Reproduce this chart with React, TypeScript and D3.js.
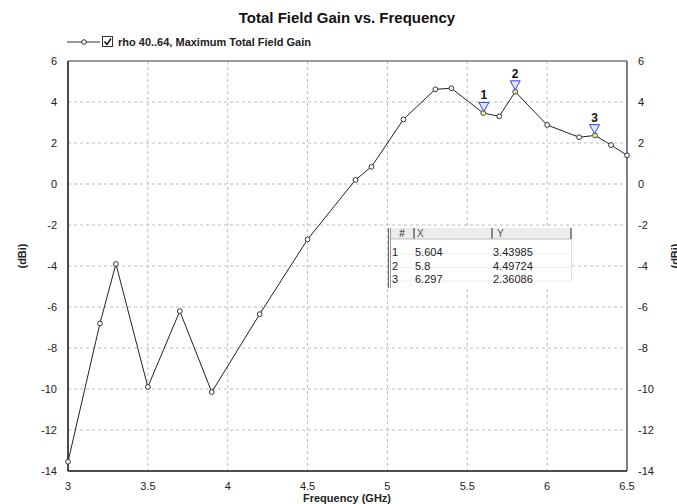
import React from "react";
import * as d3 from "d3";

const freq = [3.0, 3.2, 3.3, 3.5, 3.7, 3.9, 4.2, 4.5, 4.8, 4.9, 5.1, 5.3, 5.4, 5.6, 5.7, 5.8, 6.0, 6.2, 6.3, 6.4, 6.5];
const gain = [-13.55, -6.8, -3.9, -9.9, -6.2, -10.15, -6.35, -2.7, 0.2, 0.84, 3.15, 4.62, 4.67, 3.46, 3.3, 4.5, 2.88, 2.28, 2.37, 1.9, 1.4];

const markerIds = ["1", "2", "3"];
const markerX = [5.604, 5.8, 6.297];
const markerY = [3.43985, 4.49724, 2.36086];

const xTicks = [3, 3.5, 4, 4.5, 5, 5.5, 6, 6.5];
const yTicks = [-14, -12, -10, -8, -6, -4, -2, 0, 2, 4, 6];

const title = "Total Field Gain vs. Frequency";
const legendLabel = "rho 40..64, Maximum Total Field Gain";
const xTitle = "Frequency (GHz)";
const yTitle = "(dBi)";

const W = 677, H = 504;
const L = 68, R = 627, T = 61, B = 471;
const FONT = "Arial, 'Liberation Sans', sans-serif";

export default function App() {
  const x = d3.scaleLinear().domain([3, 6.5]).range([L, R]);
  const y = d3.scaleLinear().domain([-14, 6]).range([B, T]);
  const line = d3.line<number>().x((_, i) => x(freq[i])).y((d) => y(d));
  const pts = gain.map((g, i) => [freq[i], g]);

  const tblL = 388, tblT = 228, hdrH = 11, rowH = 13.5, tblB = 288;
  const colX = [391, 414, 492, 571];

  return (
    <svg width={W} height={H} style={{ position: "absolute", left: 0, top: 0, background: "#fff" }} fontFamily={FONT}>
      <rect x={0} y={0} width={W} height={H} fill="#fff" />
      <text x={347} y={23} textAnchor="middle" fontWeight="bold" fontSize={15} fill="#111">{title}</text>
      {/* legend */}
      <g>
        <line x1={67} y1={42} x2={100} y2={42} stroke="#333" strokeWidth={1} />
        <circle cx={84} cy={42} r={2.3} fill="#fff" stroke="#333" strokeWidth={1} />
        <rect x={102.5} y={36.5} width={10} height={10} fill="#fff" stroke="#333" strokeWidth={1} />
        <path d="M104.5,41.5 L107,44.5 L111,38.5" fill="none" stroke="#111" strokeWidth={1.5} />
        <text x={118} y={46} fontWeight="bold" fontSize={11} fill="#222">{legendLabel}</text>
      </g>
      {/* grid */}
      {xTicks.slice(1, -1).map((t) => (
        <line key={"gx" + t} x1={x(t)} x2={x(t)} y1={T} y2={B} stroke="#bbb" strokeDasharray="3,3" strokeWidth={1} />
      ))}
      {yTicks.slice(1, -1).map((t) => (
        <line key={"gy" + t} x1={L} x2={R} y1={y(t)} y2={y(t)} stroke="#bbb" strokeDasharray="3,3" strokeWidth={1} />
      ))}
      {/* frame */}
      <line x1={L} x2={R} y1={T} y2={T} stroke="#999" strokeWidth={2} />
      <line x1={R} x2={R} y1={T} y2={B} stroke="#555" strokeWidth={1.5} />
      <line x1={L} x2={L} y1={T} y2={B} stroke="#111" strokeWidth={1.5} />
      <line x1={L} x2={R} y1={B} y2={B} stroke="#111" strokeWidth={1.5} />
      {/* ticks */}
      {yTicks.map((t) => (
        <g key={"yt" + t}>
          <text x={57} y={y(t) + 4} textAnchor="end" fontSize={11} fill="#222">{t}</text>
          <text x={638} y={y(t) + 4} textAnchor="start" fontSize={11} fill="#222">{t}</text>
        </g>
      ))}
      {xTicks.map((t) => (
        <text key={"xt" + t} x={x(t)} y={490} textAnchor="middle" fontSize={11} fill="#222">{t}</text>
      ))}
      <text x={347} y={502} textAnchor="middle" fontWeight="bold" fontSize={11} fill="#222">{xTitle}</text>
      <text transform={`translate(26,256) rotate(-90)`} textAnchor="middle" fontWeight="bold" fontSize={11} fill="#222">{yTitle}</text>
      <text transform={`translate(679,256) rotate(-90)`} textAnchor="middle" fontWeight="bold" fontSize={11} fill="#222">{yTitle}</text>
      {/* series */}
      <path d={line(gain) || ""} fill="none" stroke="#222" strokeWidth={1} />
      {pts.map(([f, g], i) => (
        <circle key={"p" + i} cx={x(f)} cy={y(g)} r={2.4} fill="#fff" stroke="#333" strokeWidth={1} />
      ))}
      {/* markers */}
      {markerX.map((mx, i) => {
        const cx = x(mx), cy = y(markerY[i]);
        const tip = cy - 2;
        return (
          <g key={"m" + i}>
            <circle cx={cx} cy={cy} r={1.6} fill="#e8e060" />
            <path d={`M${cx - 5},${tip - 9} L${cx + 5},${tip - 9} L${cx},${tip} Z`} fill="#dde6ff" stroke="#3344ee" strokeWidth={1} />
            <text x={cx} y={tip - 12} textAnchor="middle" fontWeight="bold" fontSize={12} fill="#111">{markerIds[i]}</text>
          </g>
        );
      })}
      {/* table */}
      <g fontSize={11} fill="#222">
        <rect x={tblL} y={tblT} width={colX[3] + 1 - tblL} height={tblB - tblT} fill="#fff" />
        <rect x={colX[0]} y={tblT} width={colX[3] - colX[0]} height={hdrH} fill="#ececec" />
        <line x1={tblL + 0.5} x2={tblL + 0.5} y1={tblT} y2={tblB} stroke="#666" />
        <line x1={tblL + 2.5} x2={tblL + 2.5} y1={tblT} y2={tblB} stroke="#999" />
        <line x1={colX[1]} x2={colX[1]} y1={tblT} y2={tblT + hdrH} stroke="#666" strokeWidth={1.5} />
        <line x1={colX[2]} x2={colX[2]} y1={tblT} y2={tblT + hdrH} stroke="#666" strokeWidth={1.5} />
        <line x1={colX[3]} x2={colX[3]} y1={tblT} y2={tblT + hdrH} stroke="#666" strokeWidth={1.5} />
        <line x1={colX[0]} x2={colX[3]} y1={tblT + hdrH} y2={tblT + hdrH} stroke="#bbb" />
        <line x1={colX[3] + 0.5} x2={colX[3] + 0.5} y1={tblT + hdrH} y2={tblT + hdrH + rowH * 3 + 2} stroke="#ddd" />
        {markerIds.map((_, i) => (
          <line key={"sep" + i} x1={colX[0]} x2={colX[3]} y1={tblT + hdrH + rowH * (i + 1) + 1.5} y2={tblT + hdrH + rowH * (i + 1) + 1.5} stroke="#eee" />
        ))}
        <text x={402} y={tblT + 9} textAnchor="middle" fontSize={10}>#</text>
        <text x={417} y={tblT + 9} fontSize={10} fill="#555">X</text>
        <text x={497} y={tblT + 9} fontSize={10} fill="#555">Y</text>
        {markerIds.map((id, i) => (
          <g key={"r" + i}>
            <text x={392} y={256 + rowH * i}>{id}</text>
            <text x={415} y={256 + rowH * i}>{String(markerX[i])}</text>
            <text x={493} y={256 + rowH * i}>{String(markerY[i])}</text>
          </g>
        ))}
      </g>
    </svg>
  );
}
